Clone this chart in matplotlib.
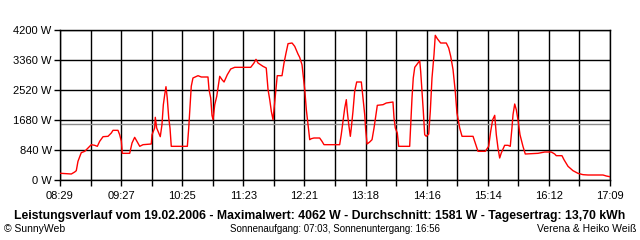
import numpy as np
import matplotlib
matplotlib.use("Agg")
import matplotlib.pyplot as plt

# minutes after 08:29 and power in W
minutes = [0.7, 10.7, 13.9, 15.4, 17.0, 20.1, 23.4, 26.5, 29.6, 32.8, 35.3, 37.5, 40.7,
           45.4, 48.5, 50.1, 54.8, 56.4, 58.0, 58.9, 64.3, 65.9, 68.1, 70.6, 75.4, 78.5,
           86.3, 87.0, 89.5, 90.1, 91.4, 92.7, 94.8, 96.4, 97.7, 99.0, 100.2, 101.4, 102.8,
           104.0, 105.2, 120.4, 121.7, 122.9, 124.1, 125.7, 130.5, 133.6, 139.9, 140.9,
           142.5, 143.7, 144.7, 146.3, 148.2, 149.4, 151.0, 153.2, 155.1, 158.2, 161.4,
           165.2, 180.3, 183.4, 185.3, 187.2, 191.9, 195.0, 196.7, 198.3, 199.8, 201.4,
           203.5, 205.4, 209.9, 211.8, 213.7, 215.6, 219.4, 221.9, 225.0, 226.6, 228.8,
           230.0, 231.4, 232.9, 234.5, 236.1, 237.6, 240.1, 245.5, 247.7, 249.6, 264.4,
           265.9, 267.6, 269.2, 270.7, 271.6, 273.0, 274.5, 275.4, 277.0, 278.6, 280.5,
           284.9, 286.5, 288.1, 289.0, 290.3, 292.8, 295.0, 296.9, 298.5, 300.0, 305.4,
           308.5, 314.8, 315.8, 317.0, 318.9, 320.2, 330.6, 331.6, 332.8, 334.0, 335.4,
           337.8, 340.1, 341.0, 342.3, 343.5, 344.8, 346.3, 348.6, 350.1, 351.7, 353.6,
           354.8, 356.7, 359.9, 365.2, 367.5, 369.4, 371.6, 373.7, 375.3, 377.9, 380.1,
           390.5, 392.6, 395.2, 402.1, 405.3, 407.2, 409.1, 411.0, 412.5, 414.1, 415.7,
           417.2, 420.4, 423.6, 425.7, 427.3, 428.3, 429.9, 431.4, 433.0, 434.9, 437.7,
           439.9, 451.9, 458.3, 464.5, 467.7, 469.2, 474.6, 476.5, 480.3, 485.0, 489.7,
           494.5, 499.2, 513.4, 516.5, 519.7]
power = [187, 168, 224, 261, 523, 765, 803, 896, 989, 971, 943, 1083, 1213,
         1223, 1316, 1391, 1391, 1269, 1083, 747, 747, 747, 1036, 1195, 943, 989,
         1008, 1269, 1456, 1755, 1456, 1363, 1213, 1549, 2109, 2389, 2613, 2296, 1736,
         1456, 943, 943, 1456, 2016, 2623, 2856, 2921, 2884, 2884, 2529,
         2296, 1811, 1689, 2109, 2343, 2576, 2903, 2809, 2744, 2949, 3108,
         3155, 3155, 3276, 3379, 3276, 3183, 3136, 2529, 2249, 1923, 1689,
         2343, 2921, 2921, 3276, 3556, 3817, 3836, 3743, 3528, 3435, 3229,
         2903, 2529, 1969, 1549, 1129, 1157, 1176, 1176, 1083, 989, 989,
         1269, 1643, 2016, 2249, 1923, 1549, 1223, 1456, 1923, 2483, 2744,
         2744, 2296, 1829, 1409, 1008, 1064, 1129, 1456, 1783, 2091, 2109,
         2156, 2184, 1736, 1456, 1316, 943, 943, 1549, 2296, 2856, 3155,
         3248, 3341, 3043, 2483, 1923, 1269, 1223, 1288, 1923, 2856, 3509,
         4051, 3957, 3836, 3836, 3696, 3463, 3089, 2483, 1876, 1456, 1223,
         1223, 1036, 803, 803, 943, 1363, 1689, 1811, 1269, 896, 616,
         756, 971, 971, 943, 1456, 1829, 2128, 1969, 1689, 1269, 943,
         728, 747, 784, 784, 728, 681, 681, 569, 383, 261, 187,
         149, 140, 140, 112, 93]

average = 1581
x_labels = ["08:29", "09:27", "10:25", "11:23", "12:21", "13:18", "14:16", "15:14", "16:12", "17:09"]
y_ticks = [0, 840, 1680, 2520, 3360, 4200]
span = 520  # 08:29 .. 17:09 in minutes

plt.rcParams['font.family'] = ['Liberation Sans', 'DejaVu Sans']

fig = plt.figure(figsize=(6.4, 2.4), dpi=100)
ax = fig.add_axes([60 / 640, 60 / 240, 550 / 640, 150 / 240])

ax.plot(minutes, power, color="red", linewidth=1, zorder=3)
ax.axhline(average, color="#8c8c8c", linewidth=1, zorder=2)

xt = np.linspace(0, span, 19)
ax.set_xticks(xt)
ax.set_xticklabels([x_labels[i // 2] if i % 2 == 0 else "" for i in range(19)])
ax.set_yticks(y_ticks)
ax.set_yticklabels([f"{v} W" for v in y_ticks])
ax.set_xlim(0, span)
ax.set_ylim(0, 4200)

ax.grid(True, color="black", linewidth=1, zorder=1)
ax.set_axisbelow(True)
ax.tick_params(length=4, width=1, color="black", labelsize=8)
ax.tick_params(axis="x", pad=4)
ax.tick_params(axis="y", pad=2)
for s in ax.spines.values():
    s.set_linewidth(1)

fig.text(0.5, 1 - 216 / 240,
         "Leistungsverlauf vom 19.02.2006 - Maximalwert: 4062 W - Durchschnitt: 1581 W - Tagesertrag: 13,70 kWh",
         ha="center", va="center", fontsize=8.8, fontweight="bold")
fig.text(4 / 640, 1 - 229 / 240, "© SunnyWeb", ha="left", va="center", fontsize=7.5)
fig.text(335 / 640, 1 - 229 / 240, "Sonnenaufgang: 07:03, Sonnenuntergang: 16:56",
         ha="center", va="center", fontsize=7)
fig.text(636 / 640, 1 - 229 / 240, "Verena & Heiko Weiß", ha="right", va="center", fontsize=7.5)

fig.savefig("out.png", dpi=100)
